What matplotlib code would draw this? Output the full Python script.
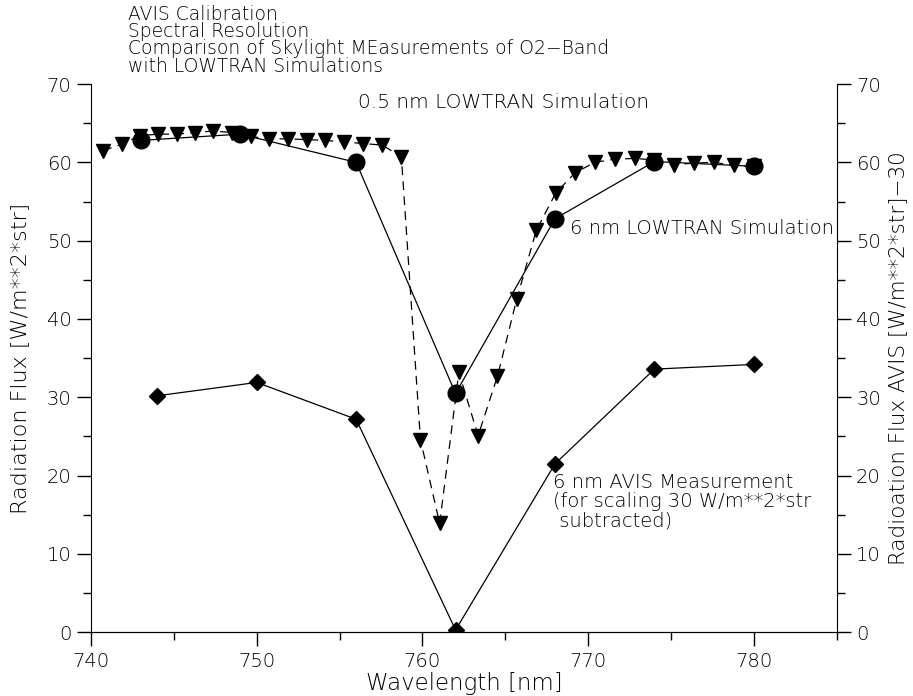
import numpy as np
import matplotlib.pyplot as plt
from matplotlib.ticker import MultipleLocator

plt.rcParams['font.family'] = ['DejaVu Sans']
plt.rcParams['font.weight'] = 200
plt.rcParams['axes.labelweight'] = 200

# 0.5 nm LOWTRAN simulation (dashed, triangles)
wl_05 = [740.74, 741.84, 742.94, 744.05, 745.16, 746.27, 747.38, 748.50, 749.63,
         750.75, 751.88, 753.01, 754.15, 755.29, 756.43, 757.58, 758.73, 759.88,
         761.04, 762.20, 763.36, 764.53, 765.70, 766.87, 768.05, 769.23, 770.42,
         771.60, 772.80, 773.99, 775.19, 776.40, 777.60, 778.82, 780.03]
flux_05 = [61.5, 62.3, 63.4, 63.6, 63.6, 63.8, 64.0, 63.8, 63.3,
           63.0, 63.0, 62.9, 62.8, 62.6, 62.4, 62.2, 60.7, 24.6,
           13.9, 33.2, 25.1, 32.7, 42.6, 51.3, 56.1, 58.7, 60.0,
           60.4, 60.5, 60.3, 59.7, 59.9, 60.0, 59.6, 59.5]

# 6 nm LOWTRAN simulation (solid, circles)
wl_6 = [743, 749, 756, 762, 768, 774, 780]
flux_6 = [62.8, 63.6, 60.0, 30.5, 52.8, 60.1, 59.5]

# 6 nm AVIS measurement, 30 subtracted (solid, diamonds)
wl_avis = [744, 750, 756, 762, 768, 774, 780]
flux_avis = [30.2, 31.9, 27.2, 0.3, 21.5, 33.6, 34.2]

fig = plt.figure(figsize=(9.13, 6.96), dpi=100)
ax = fig.add_axes([0.0997, 0.0915, 0.8167, 0.7878])
ax2 = ax.twinx()

ax.plot(wl_05, flux_05, color="black", linestyle=(0, (7, 5)), linewidth=0.9,
        marker="v", markersize=10)
ax.plot(wl_6, flux_6, color="black", linewidth=0.9, marker="o", markersize=12)
ax.plot(wl_avis, flux_avis, color="black", linewidth=0.9, marker="D", markersize=8)

ax.set_xlim(740, 785)
ax.set_ylim(0, 70)
ax2.set_ylim(0, 70)

for a in (ax, ax2):
    a.spines["top"].set_visible(False)
    a.yaxis.set_major_locator(MultipleLocator(10))
    a.yaxis.set_minor_locator(MultipleLocator(5))
    a.tick_params(which="major", direction="out", length=10, width=1, labelsize=14, pad=4)
    a.tick_params(which="minor", direction="out", length=6, width=1)
ax.spines["right"].set_visible(False)
ax2.spines["left"].set_visible(False)
ax.xaxis.set_major_locator(MultipleLocator(10))
ax.xaxis.set_minor_locator(MultipleLocator(5))

ax.set_xlabel("Wavelength [nm]", fontsize=16.5, labelpad=1)
ax.set_ylabel("Radiation Flux [W/m**2*str]", fontsize=16, labelpad=12)
ax2.set_ylabel("Radioation Flux AVIS [W/m**2*str]\u221230", fontsize=15.5, labelpad=5)

ax.text(756.1, 67.7, "0.5 nm LOWTRAN Simulation", fontsize=14.5, va="center")
ax.text(768.9, 51.6, "6 nm LOWTRAN Simulation", fontsize=14, va="center")
ax.text(767.9, 20.3, "6 nm AVIS Measurement\n(for scaling 30 W/m**2*str\n subtracted)",
        fontsize=14, va="top", linespacing=1.0)

fig.text(128 / 913, 1 - 5 / 696,
         "AVIS Calibration\nSpectral Resolution\nComparison of Skylight MEasurements of O2\u2212Band\nwith LOWTRAN Simulations",
         fontsize=13.5, va="top", ha="left", linespacing=0.88)

fig.savefig("out.png", dpi=100)
